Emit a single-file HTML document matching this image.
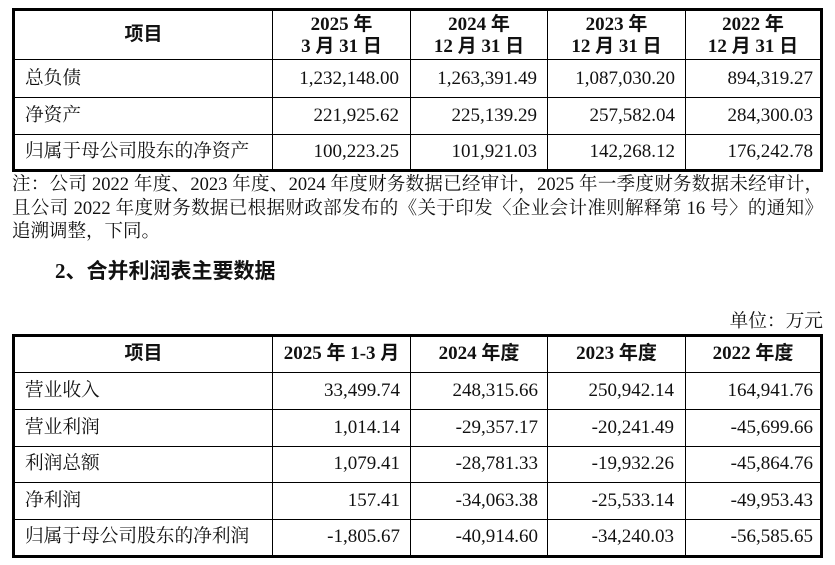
<!DOCTYPE html>
<html><head><meta charset="utf-8">
<style>
html,body{margin:0;padding:0;background:#fff;}
body{width:835px;height:565px;position:relative;overflow:hidden;color:#111;
font-family:"Liberation Serif","Noto Serif CJK SC",serif;}
.box{position:absolute;border:3px solid #000;box-sizing:border-box;}
.v{position:absolute;width:1px;background:#000;}
.h{position:absolute;height:1px;background:#000;}
.t{position:absolute;white-space:nowrap;font-size:18.7px;height:24px;line-height:24px;}
.n{position:absolute;white-space:nowrap;font-size:19px;height:24px;line-height:24px;text-align:right;}
.b{position:absolute;white-space:nowrap;font-size:19px;height:24px;line-height:24px;font-weight:bold;text-align:center;
font-family:"Liberation Serif","Noto Sans CJK SC",sans-serif;}
.note{position:absolute;left:12px;width:811px;font-size:18.5px;height:24px;line-height:24px;white-space:nowrap;
font-family:"Liberation Serif","Noto Serif CJK SC",serif;}
.j{text-align:justify;text-align-last:justify;}
</style></head><body>

<!-- Table 1 -->
<div class="box" style="left:12px;top:8px;width:811px;height:164px;"></div>
<div class="v" style="left:272px;top:8px;height:164px;"></div>
<div class="v" style="left:410px;top:8px;height:164px;"></div>
<div class="v" style="left:547px;top:8px;height:164px;"></div>
<div class="v" style="left:685px;top:8px;height:164px;"></div>
<div class="h" style="left:12px;top:59px;width:811px;"></div>
<div class="h" style="left:12px;top:97px;width:811px;"></div>
<div class="h" style="left:12px;top:134px;width:811px;"></div>

<div class="b" style="left:15px;width:257px;top:23px;">项目</div>
<div class="b" style="left:273px;width:137px;top:13px;">2025 年</div>
<div class="b" style="left:273px;width:137px;top:35px;">3 月 31 日</div>
<div class="b" style="left:411px;width:136px;top:13px;">2024 年</div>
<div class="b" style="left:411px;width:136px;top:35px;">12 月 31 日</div>
<div class="b" style="left:548px;width:137px;top:13px;">2023 年</div>
<div class="b" style="left:548px;width:137px;top:35px;">12 月 31 日</div>
<div class="b" style="left:686px;width:134px;top:13px;">2022 年</div>
<div class="b" style="left:686px;width:134px;top:35px;">12 月 31 日</div>

<div class="t" style="left:25px;top:67px;">总负债</div>
<div class="n" style="right:436px;top:67px;">1,232,148.00</div>
<div class="n" style="right:298px;top:67px;">1,263,391.49</div>
<div class="n" style="right:160px;top:67px;">1,087,030.20</div>
<div class="n" style="right:22px;top:67px;">894,319.27</div>

<div class="t" style="left:25px;top:104px;">净资产</div>
<div class="n" style="right:436px;top:104px;">221,925.62</div>
<div class="n" style="right:298px;top:104px;">225,139.29</div>
<div class="n" style="right:160px;top:104px;">257,582.04</div>
<div class="n" style="right:22px;top:104px;">284,300.03</div>

<div class="t" style="left:25px;top:140px;">归属于母公司股东的净资产</div>
<div class="n" style="right:436px;top:140px;">100,223.25</div>
<div class="n" style="right:298px;top:140px;">101,921.03</div>
<div class="n" style="right:160px;top:140px;">142,268.12</div>
<div class="n" style="right:22px;top:140px;">176,242.78</div>

<!-- Note -->
<div class="note j" style="top:173px;">注：公司 2022 年度、2023 年度、2024 年度财务数据已经审计，2025 年一季度财务数据未经审计，</div>
<div class="note j" style="top:197px;">且公司 2022 年度财务数据已根据财政部发布的《关于印发〈企业会计准则解释第 16 号〉的通知》</div>
<div class="note" style="top:220px;">追溯调整，下同。</div>

<!-- Heading -->
<div style="position:absolute;left:55px;top:257px;height:28px;line-height:28px;font-size:21px;font-weight:bold;white-space:nowrap;font-family:'Liberation Serif','Noto Sans CJK SC',sans-serif;">2、合并利润表主要数据</div>

<div class="t" style="right:12px;top:310px;">单位：万元</div>

<!-- Table 2 -->
<div class="box" style="left:12px;top:334px;width:811px;height:224px;"></div>
<div class="v" style="left:272px;top:334px;height:224px;"></div>
<div class="v" style="left:410px;top:334px;height:224px;"></div>
<div class="v" style="left:547px;top:334px;height:224px;"></div>
<div class="v" style="left:685px;top:334px;height:224px;"></div>
<div class="h" style="left:12px;top:372px;width:811px;"></div>
<div class="h" style="left:12px;top:409px;width:811px;"></div>
<div class="h" style="left:12px;top:446px;width:811px;"></div>
<div class="h" style="left:12px;top:482px;width:811px;"></div>
<div class="h" style="left:12px;top:519px;width:811px;"></div>

<div class="b" style="left:15px;width:257px;top:342px;">项目</div>
<div class="b" style="left:273px;width:137px;top:342px;">2025 年 1-3 月</div>
<div class="b" style="left:411px;width:136px;top:342px;">2024 年度</div>
<div class="b" style="left:548px;width:137px;top:342px;">2023 年度</div>
<div class="b" style="left:686px;width:134px;top:342px;">2022 年度</div>

<div class="t" style="left:25px;top:379px;">营业收入</div>
<div class="n" style="right:435px;top:379px;">33,499.74</div>
<div class="n" style="right:297px;top:379px;">248,315.66</div>
<div class="n" style="right:161px;top:379px;">250,942.14</div>
<div class="n" style="right:22px;top:379px;">164,941.76</div>

<div class="t" style="left:25px;top:416px;">营业利润</div>
<div class="n" style="right:435px;top:416px;">1,014.14</div>
<div class="n" style="right:297px;top:416px;">-29,357.17</div>
<div class="n" style="right:161px;top:416px;">-20,241.49</div>
<div class="n" style="right:22px;top:416px;">-45,699.66</div>

<div class="t" style="left:25px;top:452px;">利润总额</div>
<div class="n" style="right:435px;top:452px;">1,079.41</div>
<div class="n" style="right:297px;top:452px;">-28,781.33</div>
<div class="n" style="right:161px;top:452px;">-19,932.26</div>
<div class="n" style="right:22px;top:452px;">-45,864.76</div>

<div class="t" style="left:25px;top:489px;">净利润</div>
<div class="n" style="right:435px;top:489px;">157.41</div>
<div class="n" style="right:297px;top:489px;">-34,063.38</div>
<div class="n" style="right:161px;top:489px;">-25,533.14</div>
<div class="n" style="right:22px;top:489px;">-49,953.43</div>

<div class="t" style="left:25px;top:525px;">归属于母公司股东的净利润</div>
<div class="n" style="right:435px;top:525px;">-1,805.67</div>
<div class="n" style="right:297px;top:525px;">-40,914.60</div>
<div class="n" style="right:161px;top:525px;">-34,240.03</div>
<div class="n" style="right:22px;top:525px;">-56,585.65</div>

</body></html>
